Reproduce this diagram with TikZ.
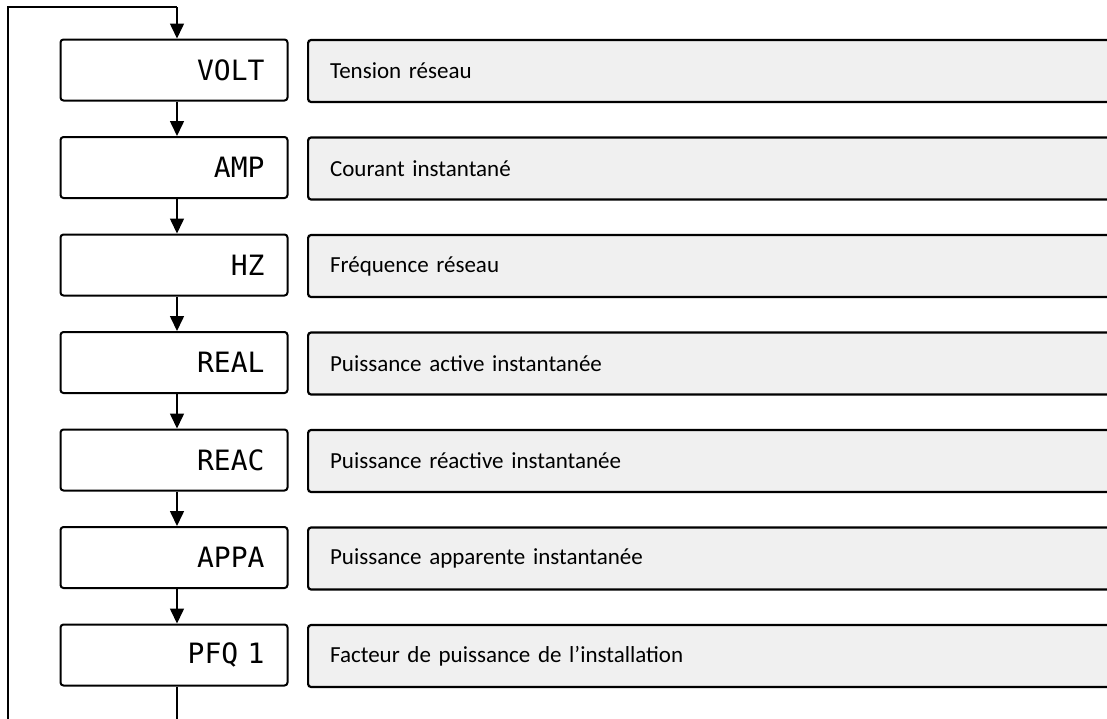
\documentclass[tikz,border=0pt]{standalone}
\usepackage{fontspec}
\setmainfont{Carlito}
\newfontfamily\lcdfont{DejaVu Sans Mono}
\usetikzlibrary{arrows.meta}
\begin{document}
\begin{tikzpicture}[x=1pt,y=-1pt,
  lbox/.style={draw=black,line width=2pt,rounded corners=3pt,fill=white,
    minimum height=61pt,text width=181pt,inner xsep=23pt,align=right,
    font=\lcdfont\fontsize{28}{28}\selectfont},
  rbox/.style={draw=black,line width=2.2pt,rounded corners=3pt,fill=gray!12,
    minimum height=62pt,text width=790pt,inner xsep=22pt,align=left,anchor=west,
    font=\fontsize{23}{26}\selectfont},
  arr/.style={line width=1.6pt,-{Triangle[length=15pt,width=14pt]}},
  ln/.style={line width=1.6pt}]
\clip (0,0) rectangle (1107,718);
\fill[white] (0,0) rectangle (1107,718);
\foreach \i/\lab/\txt in {1/VOLT/Tension réseau,2/AMP/Courant instantané,3/HZ/Fréquence réseau,4/REAL/Puissance active instantanée,5/REAC/Puissance réactive instantanée,6/APPA/Puissance apparente instantanée,7/PFQ 1/Facteur de puissance de l’installation}{
  \node[lbox] (p\i) at (174, {70+97.5*(\i-1)}) {\lab};
  \node[rbox] (r\i) at (307, {71+97.5*(\i-1)}) {\txt};
}
\foreach \i [evaluate=\i as \j using int(\i+1)] in {1,...,6}{
  \draw[arr] (p\i.south -| 177,0) -- (p\j.north -| 177,0);
}
\coordinate (tl) at (8,7);
\coordinate (bl) at (8,740);
\coordinate (tr) at (177,7);
\coordinate (br) at (177,740);
\draw[ln] (p7.south -| br) -- (br) -- (bl) -- (tl) -- (tr);
\draw[arr] (tr) -- (p1.north -| tr);
\end{tikzpicture}
\end{document}
